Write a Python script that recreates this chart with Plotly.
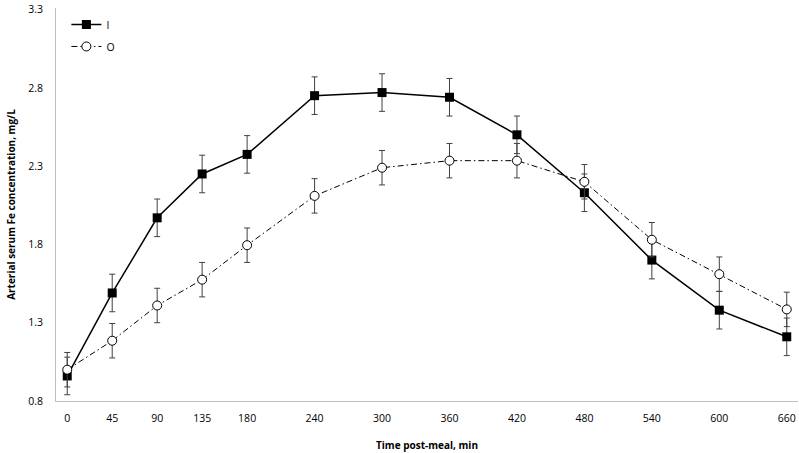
import plotly.graph_objects as go

times = [0, 45, 90, 135, 180, 240, 300, 360, 420, 480, 540, 600, 660]
tick_labels = [str(t) for t in times]
series_I = [0.96, 1.49, 1.97, 2.25, 2.375, 2.75, 2.77, 2.74, 2.50, 2.13, 1.70, 1.38, 1.21]
err_I = [0.12] * 13
series_O = [1.00, 1.185, 1.41, 1.575, 1.795, 2.11, 2.29, 2.335, 2.335, 2.20, 1.83, 1.61, 1.385]
err_O = [0.11] * 13
y_ticks = [0.8, 1.3, 1.8, 2.3, 2.8, 3.3]

# Axis spacing in the original: 45-min steps are 2 units, 60-min steps 3 units
pos = [t / 22.5 if t <= 180 else 8 + (t - 180) / 20 for t in times]

font = "Open Sans"
fig = go.Figure()
fig.add_trace(go.Scatter(
    x=pos, y=series_I, name="I", mode="lines+markers", legendgroup="I",
    line=dict(color="black", width=1.5),
    marker=dict(symbol="square", size=9, color="black"),
    error_y=dict(type="data", array=err_I, color="#404040", thickness=1, width=3),
))
fig.add_trace(go.Scatter(
    x=pos, y=series_O, name="O", mode="lines+markers", legendgroup="O",
    line=dict(color="black", width=1, dash="6px,3px,1.5px,3px"),
    marker=dict(symbol="circle", size=9, color="white", line=dict(color="black", width=1)),
    error_y=dict(type="data", array=err_O, color="#404040", thickness=1, width=3),
))
fig.update_layout(
    width=799, height=453,
    margin=dict(l=56, r=1, t=8, b=52),
    paper_bgcolor="white", plot_bgcolor="white",
    font=dict(family=font, size=10.5, color="black"),
    showlegend=True,
    legend=dict(x=0.014, y=0.995, xanchor="left", yanchor="top",
                bgcolor="rgba(0,0,0,0)", font=dict(size=10.5, color="black"),
                tracegroupgap=3),
)
fig.update_xaxes(
    range=[-0.5, 32.5], tickmode="array", tickvals=pos, ticktext=tick_labels,
    showgrid=False, zeroline=False, showline=True, linecolor="#BFBFBF", linewidth=1,
    ticks="outside", ticklen=7, tickcolor="rgba(0,0,0,0)",
    title=dict(text="<b>Time post-meal, min</b>", font=dict(size=10), standoff=18),
)
fig.update_yaxes(
    range=[0.8, 3.31], tickmode="array", tickvals=y_ticks,
    ticktext=[f"{v:.1f}" for v in y_ticks],
    showgrid=False, zeroline=False, showline=True, linecolor="#BFBFBF", linewidth=1,
    ticks="outside", ticklen=10, tickcolor="rgba(0,0,0,0)",
    title=dict(text="<b>Arterial serum Fe concentration, mg/L</b>", font=dict(size=10), standoff=10),
)
fig.write_html("out.html", config={"displayModeBar": False},
               post_script="document.body.style.margin='0';")
